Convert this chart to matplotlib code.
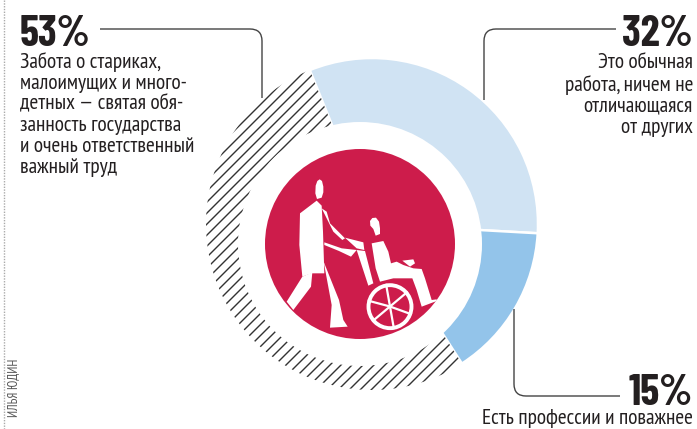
import numpy as np
import matplotlib
matplotlib.use('Agg')
import matplotlib.pyplot as plt
from matplotlib.patches import Wedge, Circle, Polygon, PathPatch
from matplotlib.path import Path

# shares in percent, clockwise from the right side
labels = ['32%', '15%', '53%']
shares = [32, 15, 53]
colors = ['#d0e3f3', '#93c4ea', 'none']

left_title = '53%'
left_text = ['Забота о стариках,', 'малоимущих и много-', 'детных — святая обя-',
             'занность государства', 'и очень ответственный', 'важный труд']
right_text = ['Это обычная', 'работа, ничем не', 'отличающаяся', 'от других']
bottom_text = 'Есть профессии и поважнее'
credit = 'ИЛЬЯ ЮДИН'

narrow = ['PT Sans Narrow', 'Roboto Condensed', 'Roboto', 'DejaVu Sans']
heavy = ['Barlow Condensed', 'Roboto Condensed', 'Roboto', 'DejaVu Sans']
plt.rcParams['font.family'] = narrow
ink = '#231f20'
line_c = '#444444'

fig = plt.figure(figsize=(6.97, 4.29), dpi=100)
ax = fig.add_axes([0, 0, 1, 1])
ax.set_xlim(0, 697)
ax.set_ylim(429, 0)
ax.axis('off')

cx, cy, R = 372, 224, 166
ccx, ccy, rin, rred = 360, 244, 122, 95

# ring, y axis is flipped so angles go clockwise
start = -112  # top edge of the 32% piece
a = start
for lab, s, c in zip(labels, shares, colors):
    b = a + s * 3.6
    if c != 'none':
        ax.add_patch(Wedge((cx, cy), R, a, b, fc=c, ec='white', lw=1.8, zorder=2))
    else:
        w = Wedge((cx, cy), R, a, b, fc='none', ec='none', zorder=2)
        ax.add_patch(w)
        for d in np.arange(-300, 1100, 11):
            ln, = ax.plot([d, d + 500], [500, 0], color='#333333', lw=1.0, zorder=2)
            ln.set_clip_path(w)
    a = b

ax.add_patch(Circle((ccx, ccy), rin, fc='white', ec='none', zorder=3))
ax.add_patch(Circle((ccx, ccy), rred, fc='#cd1c4b', ec='none', zorder=4))

# pictogram, traced in a 3x crop starting at (265,165)
def icon(pts):
    p = np.array(pts, dtype=float) / 3 + [265, 165]
    ax.add_patch(Polygon(p, closed=True, fc='white', ec='none', zorder=5))

icon([(156,102),(151,85),(152,62),(157,48),(164,43),(171,48),(175,65),(175,82),(170,98)])  # head
icon([(155,107),(170,122),(174,200),(178,325),(140,325),(112,335),(103,240),(105,145)])  # body
icon([(170,130),(185,140),(195,175),(240,220),(232,225),(205,200)])
icon([(178,232),(230,250),(275,255),(258,275),(222,258),(178,240)])  # arm
icon([(240,218),(295,232),(298,255),(275,250)])
icon([(112,335),(142,322),(138,365),(85,435),(65,410)])  # back leg
icon([(176,290),(200,350),(222,405),(235,465),(248,485),(195,488),(200,420)])  # front leg
icon([(275,255),(300,258),(325,355),(310,362)])  # chair bar
icon([(325,192),(316,182),(315,168),(322,159),(333,158),(342,170),(345,190),(345,207),(332,212)])  # second head
icon([(320,235),(355,228),(370,260),(378,295),(395,290),(415,300),(445,310),(470,312),
      (480,340),(500,405),(515,403),(515,408),(470,425),(455,375),(442,340),(385,340),(345,350),(332,310)])
icon([(412,287),(445,283),(450,295),(435,305)])
ax.add_patch(Circle((265 + 375/3, 165 + 425/3), 21.5, fc='none', ec='white', lw=2.8, zorder=5))
for ang in [20, 80, 140, 195, 260, 320]:
    t = np.radians(ang)
    ax.plot([390, 390 + 22*np.cos(t)], [306.5, 306.5 + 22*np.sin(t)], color='white', lw=1.6, zorder=5)

# connector lines
def conn(pts):
    codes = [Path.MOVETO, Path.LINETO, Path.CURVE3, Path.CURVE3, Path.LINETO]
    ax.add_patch(PathPatch(Path(pts, codes), fc='none', ec=line_c, lw=1.0, zorder=6))

conn([(100, 29), (250, 29), (262, 29), (262, 41), (262, 98)])
conn([(616, 29), (496, 29), (484, 29), (484, 41), (484, 100)])
conn([(514, 309), (514, 384), (514, 396), (526, 396), (620, 396)])

# texts
big = dict(fontsize=31, fontweight='bold', family=heavy, color=ink, va='baseline', zorder=7)
small = dict(fontsize=15.4, color=ink, va='center', zorder=7)
ax.text(20, 46, left_title, ha='left', **big)
ax.text(693, 46, labels[0], ha='right', **big)
ax.text(693, 405, labels[1], ha='right', **big)
for i, t in enumerate(left_text):
    ax.text(20, 62 + i * 21.1, t, ha='left', **small)
for i, t in enumerate(right_text):
    ax.text(693, 63 + i * 21.6, t, ha='right', **small)
ax.text(693, 419, bottom_text, ha='right', **small)
ax.text(14, 388, credit, rotation=90, ha='center', va='center', fontsize=9.3, color='#555555')
ax.plot([4, 4], [0, 429], color='#aaaaaa', lw=1.0, ls=(0, (1, 1)), zorder=1)

fig.savefig('out.png', dpi=100)
